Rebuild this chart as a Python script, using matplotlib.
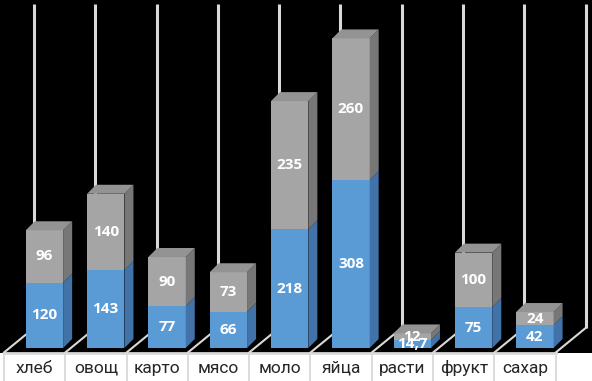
import matplotlib.pyplot as plt
from matplotlib.patches import Polygon

categories = ['хлеб', 'овощ', 'карто', 'мясо', 'моло', 'яйца', 'расти', 'фрукт', 'сахар']
lower = [120, 143, 77, 66, 218, 308, 14.7, 75, 42]
upper = [96, 140, 90, 73, 235, 260, 12, 100, 24]

BLUE, BLUE_SIDE = '#5B9BD5', '#4173A8'
GRAY, GRAY_SIDE, GRAY_TOP = '#A5A5A5', '#777777', '#939393'
LINE = '#D9D9D9'

# fake 3d: offsets in data units (x in categories, y in values)
BAR_W = 0.61
BAR_SHIFT = 0.16
DXB, DYB = 0.147, 16.5
DXF, DYF = 0.489, 45
FLOOR = -8.26
WALL_TOP = 631


def fmt(v):
    return f"{v:g}".replace('.', ',')


def draw_segment(ax, x, y0, y1, front, side, top=None):
    xl, xr = x - BAR_W / 2, x + BAR_W / 2
    ax.bar(x, y1 - y0, bottom=y0, width=BAR_W, color=front, zorder=3, linewidth=0)
    ax.add_patch(Polygon([(xr, y0), (xr + DXB, y0 + DYB), (xr + DXB, y1 + DYB), (xr, y1)],
                         closed=True, facecolor=side, edgecolor='none', zorder=3))
    if top:
        ax.add_patch(Polygon([(xl, y1), (xr, y1), (xr + DXB, y1 + DYB), (xl + DXB, y1 + DYB)],
                             closed=True, facecolor=top, edgecolor='none', zorder=3))


def main():
    fig = plt.figure(figsize=(5.92, 3.81), dpi=100, facecolor='white')
    ax = fig.add_axes([0, 0.0748, 1, 0.9252])
    ax.set_facecolor('black')
    n = len(categories)
    ax.set_xlim(-0.565, 9.092)
    ax.set_ylim(FLOOR, 638.5)
    ax.axis('off')
    ax.add_patch(plt.Rectangle((-1, FLOOR), 12, 700, facecolor='black', zorder=0))

    # back wall lines and floor
    for i in range(n + 1):
        xb = i - 0.5
        ax.plot([xb + DXF, xb + DXF], [FLOOR + DYF, WALL_TOP], color=LINE, lw=2.2, zorder=1,
                solid_capstyle='butt')
        ax.plot([xb, xb + DXF], [FLOOR, FLOOR + DYF], color=LINE, lw=1.5, zorder=1)
    ax.plot([-0.5, n - 0.5], [FLOOR, FLOOR], color=LINE, lw=2, zorder=2, clip_on=False)

    for i in range(n):
        x = i + BAR_SHIFT
        lo, hi = lower[i], upper[i]
        draw_segment(ax, x, 0, lo, BLUE, BLUE_SIDE)
        draw_segment(ax, x, lo, lo + hi, GRAY, GRAY_SIDE, GRAY_TOP)
        ax.text(x, lo / 2, fmt(lo), ha='center', va='center', color='white',
                fontsize=11, fontweight='bold', family='Open Sans', zorder=5)
        ax.text(x, lo + hi / 2, fmt(hi), ha='center', va='center', color='white',
                fontsize=11, fontweight='bold', family='Open Sans', zorder=5)

    lab = fig.add_axes([0, 0, 1, 0.0748])
    lab.set_xlim(-0.565, 9.092)
    lab.set_ylim(0, 1)
    lab.axis('off')
    for i in range(n + 1):
        lab.axvline(i - 0.5, color=LINE, lw=1.3)
    for i, name in enumerate(categories):
        lab.text(i, 0.45, name, ha='center', va='center', fontsize=12.5,
                 family='Roboto', color='#262626')

    fig.savefig('out.png', dpi=100, facecolor='white')


if __name__ == "__main__":
    main()
